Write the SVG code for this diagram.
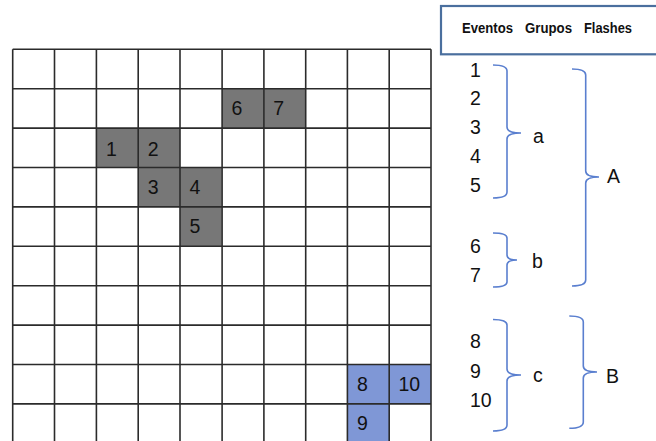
<svg xmlns="http://www.w3.org/2000/svg" width="656" height="441" viewBox="0 0 656 441">
<style>
.grid line{stroke:#2b2b2b;stroke-width:1.6}
.g{fill:#777777}
.b{fill:#7f97d6}
.ct{font-family:"Liberation Sans",Arial,sans-serif;font-size:19.5px;fill:#111}
.lt{font-family:"Liberation Sans",Arial,sans-serif;font-size:19.5px;fill:#111}
.hd{font-family:"Liberation Sans",Arial,sans-serif;font-size:14px;font-weight:bold;fill:#111}
.br{fill:none;stroke:#5a7fcf;stroke-width:1.6}
</style>
<rect width="656" height="441" fill="#fff"/>
<g id="cells">
<rect class="g" x="222.1" y="88.7" width="41.8" height="39.4"/>
<rect class="g" x="263.9" y="88.7" width="41.8" height="39.4"/>
<rect class="g" x="96.4" y="128.1" width="41.8" height="39.4"/>
<rect class="g" x="138.2" y="128.1" width="41.8" height="39.4"/>
<rect class="g" x="138.2" y="167.5" width="41.8" height="39.4"/>
<rect class="g" x="180" y="167.5" width="41.8" height="39.4"/>
<rect class="g" x="180" y="206.9" width="41.8" height="39.4"/>
<rect class="b" x="347.4" y="364.5" width="41.8" height="39.4"/>
<rect class="b" x="389.2" y="364.5" width="41.8" height="39.4"/>
<rect class="b" x="347.4" y="403.9" width="41.8" height="39.4"/>
</g>
<g class="grid" id="grid">
<line x1="12.7" y1="49.3" x2="12.7" y2="441"/>
<line x1="54.5" y1="49.3" x2="54.5" y2="441"/>
<line x1="96.4" y1="49.3" x2="96.4" y2="441"/>
<line x1="138.2" y1="49.3" x2="138.2" y2="441"/>
<line x1="180" y1="49.3" x2="180" y2="441"/>
<line x1="222.1" y1="49.3" x2="222.1" y2="441"/>
<line x1="263.9" y1="49.3" x2="263.9" y2="441"/>
<line x1="305.7" y1="49.3" x2="305.7" y2="441"/>
<line x1="347.4" y1="49.3" x2="347.4" y2="441"/>
<line x1="389.2" y1="49.3" x2="389.2" y2="441"/>
<line x1="431" y1="49.3" x2="431" y2="441"/>
<line x1="12.7" y1="49.3" x2="431" y2="49.3"/>
<line x1="12.7" y1="88.7" x2="431" y2="88.7"/>
<line x1="12.7" y1="128.1" x2="431" y2="128.1"/>
<line x1="12.7" y1="167.5" x2="431" y2="167.5"/>
<line x1="12.7" y1="206.9" x2="431" y2="206.9"/>
<line x1="12.7" y1="246.3" x2="431" y2="246.3"/>
<line x1="12.7" y1="285.7" x2="431" y2="285.7"/>
<line x1="12.7" y1="325.1" x2="431" y2="325.1"/>
<line x1="12.7" y1="364.5" x2="431" y2="364.5"/>
<line x1="12.7" y1="403.9" x2="431" y2="403.9"/>
</g>
<g id="cell-labels">
<text class="ct" x="231.5" y="115">6</text>
<text class="ct" x="273.3" y="115">7</text>
<text class="ct" x="106" y="155.5">1</text>
<text class="ct" x="147.8" y="155.5">2</text>
<text class="ct" x="147.8" y="193.5">3</text>
<text class="ct" x="189.5" y="193.5">4</text>
<text class="ct" x="189.5" y="233">5</text>
<text class="ct" x="357" y="390.5">8</text>
<text class="ct" x="398.5" y="390.5">10</text>
<text class="ct" x="357" y="430">9</text>
</g>
<g id="header">
<rect x="441" y="6" width="220" height="48.3" fill="#fff" stroke="#4a6f9e" stroke-width="2.2"/>
<text class="hd" x="462" y="33" textLength="51" lengthAdjust="spacingAndGlyphs">Eventos</text>
<text class="hd" x="525" y="33" textLength="47" lengthAdjust="spacingAndGlyphs">Grupos</text>
<text class="hd" x="584" y="33" textLength="48" lengthAdjust="spacingAndGlyphs">Flashes</text>
</g>
<g id="events">
<text class="lt" x="470" y="76.7">1</text>
<text class="lt" x="470" y="105">2</text>
<text class="lt" x="470" y="134">3</text>
<text class="lt" x="470" y="163">4</text>
<text class="lt" x="470" y="191.5">5</text>
<text class="lt" x="470" y="253">6</text>
<text class="lt" x="470" y="281.5">7</text>
<text class="lt" x="470" y="348.3">8</text>
<text class="lt" x="470" y="378.3">9</text>
<text class="lt" x="470" y="406.7">10</text>
</g>
<g id="connectors">
<path class="br" d="M493,65 Q507,65 507,71 V127 Q507,133 521,133 Q507,133 507,139 V192 Q507,198 493,198"/>
<path class="br" d="M493,233 Q507,233 507,238 V255 Q507,260 517,260 Q507,260 507,265 V282 Q507,287 493,287"/>
<path class="br" d="M493,319.5 Q507,319.5 507,325 V369 Q507,375 521,375 Q507,375 507,381 V425 Q507,431 493,431"/>
<path class="br" d="M572,69 Q585.7,69 585.7,75 V171 Q585.7,177 599,177 Q585.7,177 585.7,183 V280 Q585.7,286 572,286"/>
<path class="br" d="M569.3,316 Q583.3,316 583.3,322 V366 Q583.3,372 597,372 Q583.3,372 583.3,378 V422 Q583.3,428.3 569.3,428.3"/>
</g>
<g id="groups">
<text class="lt" x="533" y="143">a</text>
<text class="lt" x="532" y="268">b</text>
<text class="lt" x="533" y="381.5">c</text>
</g>
<g id="flashes">
<text class="lt" x="607" y="183">A</text>
<text class="lt" x="606" y="383">B</text>
</g>
</svg>
